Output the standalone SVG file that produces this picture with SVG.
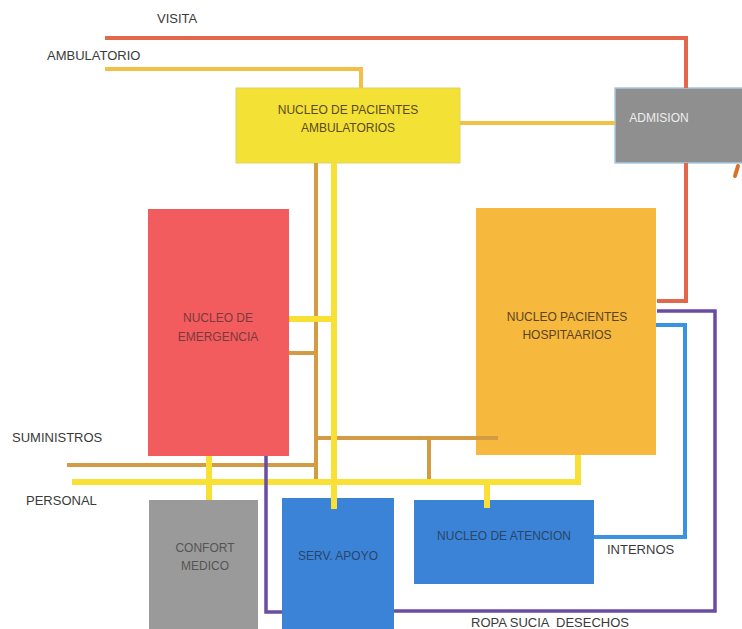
<svg xmlns="http://www.w3.org/2000/svg" width="742" height="629" viewBox="0 0 742 629">
<style>
.lbl{font-family:"Liberation Sans",Arial,sans-serif;font-size:13px;fill:#3a3a3a;white-space:pre}
.box{font-family:"Liberation Sans",Arial,sans-serif;font-size:12px;text-anchor:middle}
.c{fill:none;stroke-linejoin:miter;stroke-linecap:butt}
.red{stroke:#E2684B;stroke-width:4}
.amb{stroke:#F2BF47;stroke-width:4}
.yel{stroke:#F9E034;stroke-width:6}
.brn{stroke:#D49B45;stroke-width:4}
.pur{stroke:#6A4CA2;stroke-width:3.5}
.blu{stroke:#3A92E2;stroke-width:4}
</style>
<rect width="742" height="629" fill="#ffffff"/>
<g id="labels">
<text class="lbl" x="157" y="23">VISITA</text>
<text class="lbl" x="47" y="60">AMBULATORIO</text>
<text class="lbl" x="12" y="442">SUMINISTROS</text>
<text class="lbl" x="26" y="505">PERSONAL</text>
<text class="lbl" x="607" y="554">INTERNOS</text>
<text class="lbl" x="471" y="627" xml:space="preserve">ROPA SUCIA  DESECHOS</text>
</g>
<g id="ambulatorios">
<rect x="236" y="88" width="224" height="75" fill="#F4E136" stroke="#E0D26A" stroke-width="1"/>
<text class="box" x="348" y="114" fill="#5A4A22">NUCLEO DE PACIENTES</text>
<text class="box" x="348" y="132" fill="#5A4A22">AMBULATORIOS</text>
</g>
<g id="admision">
<rect x="615" y="88" width="130" height="75" fill="#8F8F8F" stroke="#A8CAE0" stroke-width="1.5"/>
<text class="box" x="659" y="122" fill="#EDEDED">ADMISION</text>
</g>
<g id="emergencia">
<rect x="148" y="209" width="141" height="247" fill="#F35C5E"/>
<text class="box" x="218" y="322" fill="#7A3A3A">NUCLEO DE</text>
<text class="box" x="218" y="341" fill="#7A3A3A">EMERGENCIA</text>
</g>
<g id="hospitalarios">
<rect x="476" y="208" width="180" height="247" fill="#F6B83D"/>
<text class="box" x="567" y="321" fill="#5A4424">NUCLEO PACIENTES</text>
<text class="box" x="567" y="339" fill="#5A4424">HOSPITAARIOS</text>
</g>
<g id="confort">
<rect x="149" y="500" width="109" height="129" fill="#9A9A9A"/>
<text class="box" x="205" y="552" fill="#555555">CONFORT</text>
<text class="box" x="205" y="570" fill="#555555">MEDICO</text>
</g>
<g id="apoyo">
<rect x="282" y="498" width="112" height="131" fill="#3A83D7"/>
<text class="box" x="338" y="560" fill="#2C4568">SERV. APOYO</text>
</g>
<g id="atencion">
<rect x="414" y="500" width="180" height="84" fill="#3A83D7"/>
<text class="box" x="504" y="540" fill="#2C4568">NUCLEO DE ATENCION</text>
</g>
<g id="connectors">
<path class="c red" d="M105 38 H686 V88 M686 163 V301 H657"/>
<path class="c amb" d="M105 69 H361 V88"/>
<path class="c amb" d="M460 123 H615"/>
<path class="c brn" d="M316 163 V482"/>
<path class="c brn" d="M289 353 H316"/>
<path class="c brn" d="M67 465 H317"/>
<path class="c brn" d="M314 438 H498"/>
<path class="c brn" d="M429 438 V482"/>
<path class="c yel" d="M334 163 V509"/>
<path class="c yel" d="M289 319 H337"/>
<path class="c yel" d="M72 482 H578 V455"/>
<path class="c yel" d="M209 456 V500"/>
<path class="c yel" d="M487 482 V508"/>
<path class="c pur" d="M266 456 V612 H282"/>
<path class="c pur" d="M394 611 H715 V311 H657"/>
<path class="c blu" d="M656 325 H685 V537 H594"/>
<path d="M738 166 L735 176" stroke="#D9702E" stroke-width="4" stroke-linecap="round" fill="none"/>
</g>
</svg>
